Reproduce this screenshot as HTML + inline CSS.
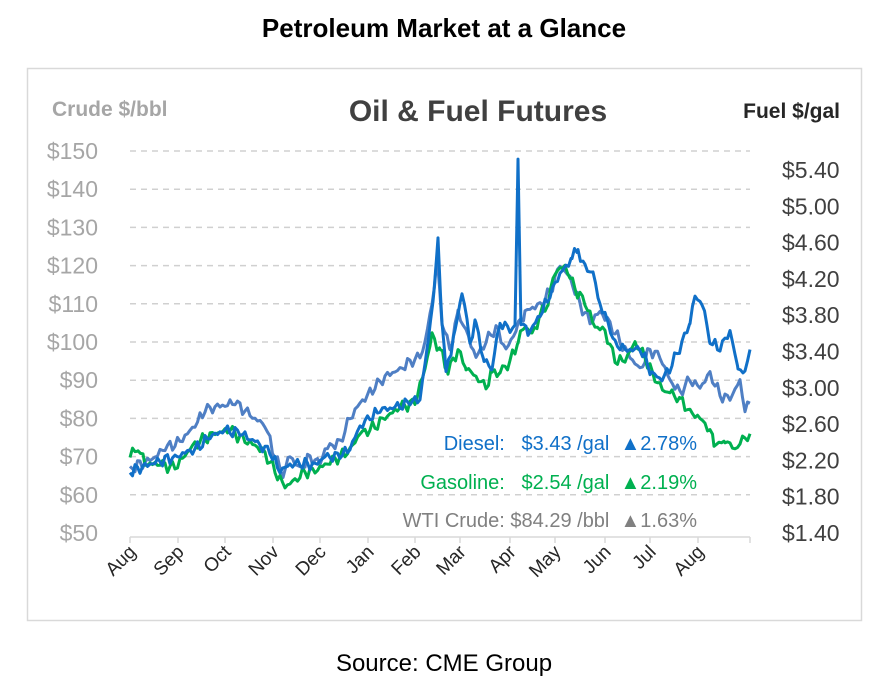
<!DOCTYPE html>
<html><head><style>
body{margin:0;background:#fff;width:889px;height:694px;overflow:hidden;font-family:"Liberation Sans",sans-serif}
</style></head><body>
<svg width="889" height="694" viewBox="0 0 889 694" xmlns="http://www.w3.org/2000/svg" font-family="Liberation Sans, sans-serif">
<text x="444" y="37" text-anchor="middle" font-size="26" font-weight="bold" fill="#000">Petroleum Market at a Glance</text>
<rect x="27.5" y="68.5" width="834" height="552" fill="#fff" stroke="#d9d9d9" stroke-width="1.5"/>
<text x="52" y="116" font-size="21" font-weight="bold" fill="#a6a6a6">Crude $/bbl</text>
<text x="478" y="121" text-anchor="middle" font-size="30" font-weight="bold" fill="#404040">Oil &amp; Fuel Futures</text>
<text x="840" y="118" text-anchor="end" font-size="21" font-weight="bold" fill="#262626">Fuel $/gal</text>
<g id="grid" stroke="#d0d0d0" stroke-width="1.5" stroke-dasharray="6,5"></g>
<g id="lt" font-size="23" fill="#a6a6a6" text-anchor="end"></g>
<g id="rt" font-size="23" fill="#404040"></g>
<line x1="130" y1="537" x2="750" y2="537" stroke="#d9d9d9" stroke-width="1.5"/>
<g id="ticks" stroke="#d9d9d9" stroke-width="1.5"></g>
<g id="months" font-size="19" fill="#262626" text-anchor="end"></g>
<polyline id="wti" fill="none" stroke="#4f7fc4" stroke-width="3" stroke-linejoin="round"/>
<polyline id="gas" fill="none" stroke="#00b050" stroke-width="3" stroke-linejoin="round"/>
<polyline id="dsl" fill="none" stroke="#1070c8" stroke-width="3" stroke-linejoin="round"/>
<text x="697" y="450" text-anchor="end" font-size="20" fill="#1070c8" xml:space="preserve">Diesel:   $3.43 /gal  ▲2.78%</text>
<text x="697" y="489" text-anchor="end" font-size="20" fill="#00b050" xml:space="preserve">Gasoline:   $2.54 /gal  ▲2.19%</text>
<text x="697" y="527" text-anchor="end" font-size="20" fill="#808080" xml:space="preserve">WTI Crude: $84.29 /bbl  ▲1.63%</text>
<text x="444" y="671" text-anchor="middle" font-size="24" fill="#000">Source: CME Group</text>
</svg>
<script>
var NS="http://www.w3.org/2000/svg";
function el(p,t,a,txt){var e=document.createElementNS(NS,t);for(var k in a)e.setAttribute(k,a[k]);if(txt)e.textContent=txt;document.getElementById(p).appendChild(e);}
function Y(v){return 533-(v-50)*3.82;}
for(var v=50;v<=150;v+=10){var y=Y(v);if(v>50)el("grid","line",{x1:130,x2:750,y1:y,y2:y});el("lt","text",{x:98,y:y+8},"$"+v);}
var f=["$5.40","$5.00","$4.60","$4.20","$3.80","$3.40","$3.00","$2.60","$2.20","$1.80","$1.40"];
for(var i=0;i<f.length;i++){el("rt","text",{x:782,y:170+i*36.3+8},f[i]);}
var m=[["Aug",130],["Sep",178],["Oct",225],["Nov",273],["Dec",320],["Jan",368],["Feb",415],["Mar",460],["Apr",510],["May",555],["Jun",605],["Jul",650],["Aug",698]];
var tx=[130,178,225,273,320,368,415,460,510,555,605,650,698,750];
tx.forEach(function(x){el("ticks","line",{x1:x,x2:x,y1:537,y2:543});});
m.forEach(function(a){var x=a[1]+7,y=553;el("months","text",{x:x,y:y,transform:"rotate(-45 "+x+" "+y+")"},a[0]);});
function P(id,d,seed){var s=[];for(var i=0;i<d.length-2;i+=2){var x0=d[i],v0=d[i+1],x1=d[i+2],v1=d[i+3];for(var x=x0;x<x1;x+=2.5){var t=(x-x0)/(x1-x0);var v=v0+(v1-v0)*t;var n=(Math.sin(x*1.7+seed)*0.9+Math.sin(x*0.63+seed*2)*0.8)*(t>0.1&&t<0.9?1:0.3);s.push(x.toFixed(1)+","+Y(v+n).toFixed(1));}}s.push(d[d.length-2]+","+Y(d[d.length-1]).toFixed(1));document.getElementById(id).setAttribute("points",s.join(" "));}
P("wti",[130,67,150,69,165,72,180,74,195,78,205,82,215,83,235,84,245,82,255,80,265,78,275,70,283,65,290,70,300,67,310,70,320,68,325,72,340,74,350,80,360,84,375,88,385,91,400,93,410,95,420,96,425,100,432,110,437,122,442,105,450,98,458,108,466,103,476,96,486,100,496,104,506,98,516,103,525,108,540,110,550,113,560,120,570,117,580,110,590,105,600,108,610,105,620,100,630,96,640,93,650,98,660,96,670,90,680,87,690,90,700,88,710,92,720,86,730,85,740,90,745,82,750,84],1);
P("gas",[130,70,138,72,145,68,160,68,175,67,190,72,200,74,215,76,230,77,245,74,255,73,265,71,275,66,285,62,295,64,305,66,315,66,325,68,340,70,350,72,360,76,370,77,385,80,400,83,415,84,425,93,432,102,440,98,448,92,458,98,466,93,476,91,486,88,492,92,500,92,510,95,518,100,525,104,532,102,540,107,548,110,555,118,565,120,575,114,585,110,595,104,605,103,615,95,625,95,635,100,645,96,655,90,665,87,672,87,680,85,690,82,700,80,710,77,714,73,725,74,735,72,745,75,750,76],3);
P("dsl",[130,66,150,68,175,70,195,72,210,75,225,77,240,76,255,74,270,71,280,66,290,68,300,68,315,68,325,70,340,70,350,72,360,78,370,80,380,82,395,83,410,84,420,85,428,100,434,113,438,127,442,105,446,92,455,103,462,113,470,100,476,105,484,95,492,93,500,105,510,103,515,104,518,148,521,105,528,102,540,107,550,112,560,118,566,120,572,122,578,124,585,120,593,118,600,110,608,105,615,100,625,98,640,98,652,92,662,90,672,94,682,100,690,105,695,112,702,110,710,100,720,98,730,103,738,93,745,92,750,98],5);
</script>
</body></html>
